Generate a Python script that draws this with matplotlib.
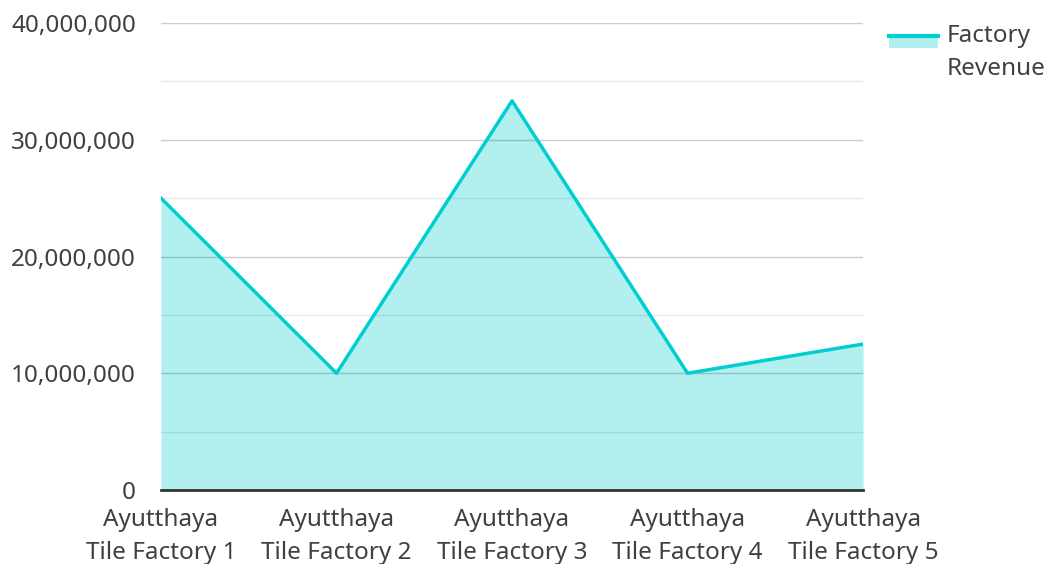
import matplotlib.pyplot as plt
from matplotlib.patches import Rectangle
from matplotlib.lines import Line2D
from matplotlib.ticker import FuncFormatter, MultipleLocator

plt.rcParams['font.family'] = ['Noto Sans', 'DejaVu Sans']

factories = ["Ayutthaya\nTile Factory 1", "Ayutthaya\nTile Factory 2", "Ayutthaya\nTile Factory 3",
             "Ayutthaya\nTile Factory 4", "Ayutthaya\nTile Factory 5"]
revenue = [25000000, 10000000, 33333333, 10000000, 12500000]

line_color = "#00CED1"
fill_color = "#B2F0F0"
text_color = "#404040"


def main():
    fig = plt.figure(figsize=(10.5, 5.64), dpi=100)
    ax = fig.add_axes([0.1533, 0.1312, 0.6687, 0.828])

    x = list(range(len(factories)))
    ax.fill_between(x, revenue, 0, color=fill_color, linewidth=0, zorder=1)
    ax.plot(x, revenue, color=line_color, linewidth=2.5, zorder=3)

    ax.set_xlim(0, len(factories) - 1)
    ax.set_ylim(0, 40000000)
    ax.yaxis.set_major_locator(MultipleLocator(10000000))
    ax.yaxis.set_minor_locator(MultipleLocator(5000000))
    ax.yaxis.set_major_formatter(FuncFormatter(lambda v, p: f"{int(v):,}"))
    ax.grid(axis="y", which="major", color="black", alpha=0.2, linewidth=1, zorder=2)
    ax.grid(axis="y", which="minor", color="black", alpha=0.09, linewidth=1, zorder=2)
    ax.set_axisbelow(False)

    ax.set_xticks(x)
    ax.set_xticklabels(factories, fontsize=17.5, color=text_color, linespacing=1.5)
    ax.tick_params(axis="y", which="both", length=0, labelsize=17.5, labelcolor=text_color, pad=18)
    ax.tick_params(axis="x", length=0, pad=13)
    for s in ["top", "right", "left"]:
        ax.spines[s].set_visible(False)
    ax.spines["bottom"].set_color("#333333")
    ax.spines["bottom"].set_linewidth(2)
    ax.spines["bottom"].set_zorder(4)

    # legend drawn by hand
    fig.add_artist(Rectangle((889 / 1050, 1 - 48 / 564), 49 / 1050, 13 / 564,
                             transform=fig.transFigure, color=fill_color, linewidth=0))
    fig.add_artist(Line2D([889 / 1050, 938 / 1050], [1 - 36 / 564, 1 - 36 / 564],
                          transform=fig.transFigure, color=line_color, linewidth=3))
    fig.text(947 / 1050, 1 - 24 / 564, "Factory\nRevenue", fontsize=17.5, color=text_color,
             va="top", ha="left", linespacing=1.5, transform=fig.transFigure)

    fig.savefig("out.png", dpi=100)


if __name__ == "__main__":
    main()
